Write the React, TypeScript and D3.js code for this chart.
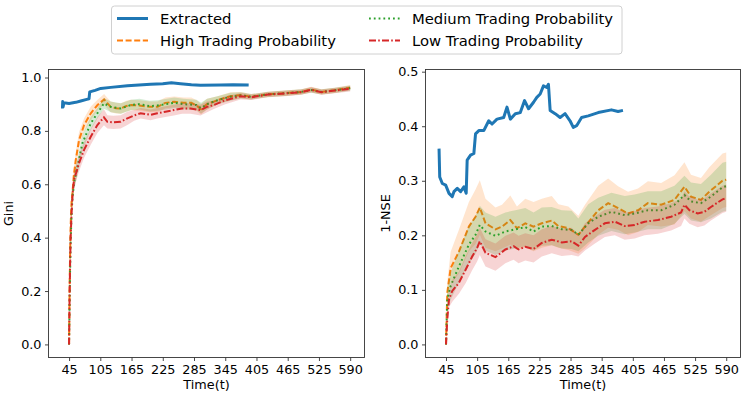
import React, { useEffect, useRef } from 'react';
import * as d3 from 'd3';

// [t, mean, half-width of shaded band]
type Pt = [number, number, number];

const xTicks = [45, 105, 165, 225, 285, 345, 405, 465, 525, 585];
const xTickLabels = ['45', '105', '165', '225', '285', '345', '405', '465', '525', '590'];
const giniTicks = [0, 0.2, 0.4, 0.6, 0.8, 1.0];
const nseTicks = [0, 0.1, 0.2, 0.3, 0.4, 0.5];

const seriesNames = ['Extracted', 'High Trading Probability', 'Medium Trading Probability', 'Low Trading Probability'];

// ---- Gini panel ----
const giniExtracted: [number, number][] = [
    [32.3, 0.884], [32.8, 0.91], [33.5, 0.89], [35, 0.905], [45, 0.903], [57.8, 0.907], [67.4, 0.912],
    [79, 0.918], [83.3, 0.92], [84.7, 0.946], [95, 0.952], [105.8, 0.959], [125, 0.963], [157, 0.969],
    [201.6, 0.975], [225, 0.977], [241.6, 0.98], [259, 0.977], [280, 0.973], [297.5, 0.971], [336, 0.972],
    [360, 0.973], [390, 0.972],
];
const giniHigh: Pt[] = [
    [45, 0, 0], [46, 0.2, 0.02], [47, 0.34, 0.03], [48, 0.44, 0.03], [49, 0.5, 0.03], [50, 0.54, 0.03],
    [51.5, 0.567, 0.03], [54, 0.63, 0.03], [57.9, 0.691, 0.03], [64.2, 0.766, 0.03], [73.9, 0.822, 0.025],
    [86.8, 0.866, 0.025], [99.7, 0.897, 0.02], [112.4, 0.918, 0.02], [118, 0.905, 0.02], [125, 0.89, 0.02],
    [135, 0.885, 0.02], [144.5, 0.884, 0.02], [155, 0.893, 0.02], [163.8, 0.897, 0.02], [180, 0.895, 0.02],
    [200, 0.89, 0.02], [215, 0.89, 0.02], [230, 0.905, 0.02], [247, 0.909, 0.02], [265, 0.905, 0.02],
    [280, 0.905, 0.02], [290, 0.895, 0.02], [298.5, 0.881, 0.02], [310, 0.9, 0.02], [330, 0.915, 0.015],
    [355, 0.93, 0.015], [375, 0.934, 0.012], [395, 0.928, 0.01], [427, 0.937, 0.01], [459, 0.941, 0.01],
    [491, 0.946, 0.01], [510, 0.955, 0.01], [530, 0.946, 0.01], [555, 0.952, 0.01], [585, 0.962, 0.01],
];
const giniMedium: Pt[] = [
    [45, 0, 0], [46, 0.15, 0.02], [47, 0.28, 0.03], [48, 0.38, 0.03], [50, 0.5, 0.03], [52, 0.56, 0.03],
    [55, 0.61, 0.03], [61.1, 0.666, 0.03], [70.7, 0.754, 0.03], [86.6, 0.828, 0.025], [99.4, 0.866, 0.02],
    [112, 0.903, 0.02], [120, 0.895, 0.02], [125, 0.89, 0.02], [144.5, 0.884, 0.02], [163.8, 0.897, 0.02],
    [180, 0.9, 0.02], [200, 0.893, 0.02], [215, 0.895, 0.02], [247, 0.905, 0.02], [265, 0.9, 0.02],
    [290, 0.897, 0.02], [298.5, 0.885, 0.02], [310, 0.9, 0.02], [330, 0.915, 0.015], [355, 0.928, 0.015],
    [375, 0.933, 0.012], [395, 0.928, 0.01], [427, 0.937, 0.01], [459, 0.941, 0.01], [491, 0.946, 0.01],
    [510, 0.953, 0.01], [530, 0.946, 0.01], [555, 0.952, 0.01], [585, 0.96, 0.01],
];
const giniLow: Pt[] = [
    [45, 0, 0], [46, 0.18, 0.02], [47, 0.3, 0.03], [48, 0.4, 0.03], [50, 0.5, 0.03], [52, 0.57, 0.03],
    [54.6, 0.617, 0.03], [64.2, 0.679, 0.03], [73.8, 0.729, 0.03], [86.6, 0.778, 0.03], [99.4, 0.822, 0.03],
    [112, 0.851, 0.03], [118.6, 0.834, 0.025], [130, 0.832, 0.025], [144, 0.834, 0.025], [157, 0.847, 0.025],
    [170, 0.858, 0.02], [182.5, 0.866, 0.02], [201.6, 0.86, 0.02], [214.4, 0.866, 0.02], [230, 0.872, 0.02],
    [246.3, 0.878, 0.02], [262, 0.884, 0.02], [278.3, 0.884, 0.02], [297.5, 0.878, 0.02], [310, 0.89, 0.02],
    [323, 0.897, 0.015], [345, 0.915, 0.015], [374.5, 0.93, 0.012], [395, 0.926, 0.01], [427, 0.936, 0.01],
    [459, 0.94, 0.01], [491, 0.945, 0.01], [510, 0.954, 0.01], [530, 0.945, 0.01], [555, 0.951, 0.01],
    [585, 0.958, 0.01],
];

// ---- 1-NSE panel ----
const nseExtracted: [number, number][] = [
    [31.6, 0.359], [32.9, 0.307], [37.9, 0.295], [44.4, 0.292], [50.8, 0.277], [57.1, 0.271], [60.3, 0.28],
    [66.7, 0.286], [73.2, 0.28], [79.5, 0.289], [83.9, 0.277], [85.8, 0.338], [92.3, 0.347], [98.7, 0.35],
    [101.9, 0.386], [108.3, 0.392], [117.8, 0.392], [127.4, 0.41], [133.7, 0.404], [143.3, 0.413],
    [156.2, 0.416], [162.5, 0.435], [169, 0.413], [178.6, 0.423], [188.2, 0.425], [196.4, 0.447],
    [204.1, 0.432], [213.7, 0.444], [220, 0.453], [226.5, 0.459], [232.8, 0.474], [239.2, 0.471],
    [242.4, 0.477], [245.7, 0.429], [255.3, 0.423], [264.9, 0.416], [274.4, 0.423], [284, 0.41],
    [290.3, 0.398], [296.7, 0.401], [306.3, 0.416], [319.1, 0.419], [338.3, 0.425], [363.8, 0.43],
    [376.6, 0.427], [386, 0.429],
];
const nseHigh: Pt[] = [
    [45, 0, 0], [46, 0.04, 0.01], [47.5, 0.095, 0.02], [54, 0.14, 0.03], [69.9, 0.17, 0.04], [89.1, 0.216, 0.045],
    [101.9, 0.234, 0.05], [110.2, 0.251, 0.05], [121.1, 0.222, 0.045], [140.3, 0.211, 0.04], [152.9, 0.216, 0.04],
    [169, 0.228, 0.045], [181.7, 0.213, 0.04], [197.8, 0.222, 0.045], [213.7, 0.216, 0.045], [229.6, 0.222, 0.045],
    [248.8, 0.227, 0.045], [261.6, 0.217, 0.04], [280.8, 0.213, 0.04], [300, 0.201, 0.035], [312.8, 0.216, 0.04],
    [338.3, 0.246, 0.045], [357.5, 0.259, 0.045], [376.6, 0.25, 0.04], [395.8, 0.24, 0.04], [415, 0.246, 0.04],
    [434.1, 0.259, 0.04], [459.6, 0.256, 0.04], [485.3, 0.265, 0.045], [504.5, 0.289, 0.045], [517.1, 0.271, 0.04],
    [536.3, 0.265, 0.04], [552.4, 0.28, 0.045], [577.9, 0.3, 0.05], [585, 0.302, 0.05],
];
const nseMedium: Pt[] = [
    [45, 0, 0], [46, 0.035, 0.01], [47.5, 0.083, 0.02], [54, 0.107, 0.025], [69.9, 0.143, 0.03], [89.1, 0.183, 0.035],
    [101.9, 0.201, 0.035], [110.2, 0.219, 0.035], [121.1, 0.207, 0.035], [140.3, 0.199, 0.035], [159.4, 0.207, 0.035],
    [178.6, 0.211, 0.035], [197.8, 0.215, 0.035], [213.7, 0.207, 0.035], [229.6, 0.216, 0.035], [248.8, 0.217, 0.035],
    [268, 0.211, 0.035], [287.1, 0.21, 0.035], [300, 0.201, 0.03], [319.1, 0.222, 0.035], [338.3, 0.234, 0.035],
    [363.8, 0.243, 0.035], [389.5, 0.237, 0.035], [408.6, 0.24, 0.035], [434.1, 0.246, 0.035], [459.6, 0.246, 0.035],
    [485.3, 0.256, 0.035], [504.5, 0.274, 0.035], [517.1, 0.262, 0.035], [536.3, 0.259, 0.035], [555.5, 0.271, 0.04],
    [577.9, 0.288, 0.045], [585, 0.29, 0.045],
];
const nseLow: Pt[] = [
    [45, 0, 0], [47.5, 0.046, 0.01], [50.8, 0.083, 0.015], [57.1, 0.098, 0.02], [69.9, 0.113, 0.02], [82.8, 0.137, 0.025],
    [95.4, 0.161, 0.025], [105, 0.177, 0.025], [110.2, 0.189, 0.025], [121.1, 0.168, 0.025], [140.3, 0.16, 0.025],
    [159.4, 0.174, 0.025], [175.3, 0.18, 0.025], [184.9, 0.174, 0.025], [197.8, 0.179, 0.025], [213.7, 0.175, 0.025],
    [229.6, 0.186, 0.025], [248.8, 0.192, 0.025], [268, 0.187, 0.025], [287.1, 0.189, 0.025], [300, 0.181, 0.02],
    [312.8, 0.197, 0.025], [332, 0.21, 0.025], [351.1, 0.222, 0.025], [370.3, 0.225, 0.025], [389.5, 0.217, 0.025],
    [408.6, 0.219, 0.025], [427.8, 0.225, 0.025], [453.3, 0.228, 0.025], [478.8, 0.234, 0.025], [498, 0.242, 0.025],
    [504.5, 0.256, 0.025], [514, 0.246, 0.025], [530, 0.24, 0.025], [542.8, 0.243, 0.025], [555.5, 0.252, 0.025],
    [577.9, 0.266, 0.025], [585, 0.268, 0.025],
];

const colors = ['#1f77b4', '#ff7f0e', '#2ca02c', '#d62728'];
const dashes = [null, '6,2.6', '1.8,3', '7,2.2,1.6,2.2'];
const FONT = '"DejaVu Sans", sans-serif';

function drawPanel(svg, opt) {
    const { left, right, top, bottom, yDomain, yTicks, yLabel, extracted, sims } = opt;
    const x = d3.scaleLinear().domain([5.5, 612.5]).range([left, right]);
    const y = d3.scaleLinear().domain(yDomain).range([bottom, top]);

    const g = svg.append('g');

    g.append('path')
        .datum(extracted)
        .attr('fill', 'none')
        .attr('stroke', colors[0])
        .attr('stroke-width', 3)
        .attr('stroke-linejoin', 'round')
        .attr('d', d3.line().x(d => x(d[0])).y(d => y(d[1])));

    sims.forEach((s, i) => {
        const c = colors[i + 1];
        g.append('path')
            .datum(s)
            .attr('fill', c)
            .attr('fill-opacity', 0.2)
            .attr('d', d3.area().x(d => x(d[0])).y0(d => y(d[1] - d[2])).y1(d => y(d[1] + d[2])));
        g.append('path')
            .datum(s)
            .attr('fill', 'none')
            .attr('stroke', c)
            .attr('stroke-width', 2)
            .attr('stroke-dasharray', dashes[i + 1])
            .attr('d', d3.line().x(d => x(d[0])).y(d => y(d[1])));
    });

    // frame
    svg.append('rect')
        .attr('x', left).attr('y', top)
        .attr('width', right - left).attr('height', bottom - top)
        .attr('fill', 'none').attr('stroke', '#333').attr('stroke-width', 0.9);

    const xAxis = svg.append('g')
        .attr('transform', `translate(0,${bottom})`)
        .call(d3.axisBottom(x).tickValues(xTicks).tickFormat((d, i) => xTickLabels[i]).tickSize(3.5).tickSizeOuter(0).tickPadding(3.5));
    const yAxis = svg.append('g')
        .attr('transform', `translate(${left},0)`)
        .call(d3.axisLeft(y).tickValues(yTicks).tickFormat(d3.format('.1f')).tickSize(3.5).tickSizeOuter(0).tickPadding(3.5));
    [xAxis, yAxis].forEach(a => {
        a.select('.domain').remove();
        a.selectAll('line').attr('stroke', '#333').attr('stroke-width', 0.9);
        a.selectAll('text').attr('font-family', FONT).attr('font-size', 12.8).attr('fill', '#000');
    });

    svg.append('text')
        .attr('x', (left + right) / 2).attr('y', 388.5)
        .attr('text-anchor', 'middle')
        .attr('font-family', FONT).attr('font-size', 12.8)
        .text('Time(t)');
    svg.append('text')
        .attr('transform', `translate(${left - 36},${(top + bottom) / 2}) rotate(-90)`)
        .attr('text-anchor', 'middle')
        .attr('font-family', FONT).attr('font-size', 12.8)
        .text(yLabel);
}

function App() {
    const svgRef = useRef(null);

    useEffect(() => {
        const svg = d3.select(svgRef.current);
        svg.selectAll('*').remove();

        drawPanel(svg, {
            left: 48.5, right: 364.5, top: 69.5, bottom: 357.5,
            yDomain: [-0.049, 1.03], yTicks: giniTicks, yLabel: 'Gini',
            extracted: giniExtracted, sims: [giniHigh, giniMedium, giniLow],
        });
        drawPanel(svg, {
            left: 425.5, right: 740.5, top: 69.5, bottom: 357.5,
            yDomain: [-0.024, 0.504], yTicks: nseTicks, yLabel: '1-NSE',
            extracted: nseExtracted, sims: [nseHigh, nseMedium, nseLow],
        });

        // legend
        const legend = svg.append('g');
        legend.append('rect')
            .attr('x', 111.5).attr('y', 6).attr('width', 510.5).attr('height', 48)
            .attr('rx', 3)
            .attr('fill', '#fff').attr('fill-opacity', 0.8)
            .attr('stroke', '#d0d0d0').attr('stroke-width', 1);
        const slots = [
            { x: 117, y: 18.5 }, { x: 117, y: 40.5 }, { x: 369, y: 18.5 }, { x: 369, y: 40.5 },
        ];
        seriesNames.forEach((name, i) => {
            const s = slots[i];
            legend.append('line')
                .attr('x1', s.x).attr('x2', s.x + 31).attr('y1', s.y).attr('y2', s.y)
                .attr('stroke', colors[i]).attr('stroke-width', i === 0 ? 3 : 2)
                .attr('stroke-dasharray', dashes[i]);
            legend.append('text')
                .attr('x', s.x + 43).attr('y', s.y).attr('dy', '0.36em')
                .attr('font-family', FONT).attr('font-size', 14.8)
                .text(name);
        });
    }, []);

    return (
        <svg ref={svgRef} width={747} height={399}
            style={{ position: 'absolute', left: 0, top: 0, background: '#fff' }} />
    );
}

export default App;
